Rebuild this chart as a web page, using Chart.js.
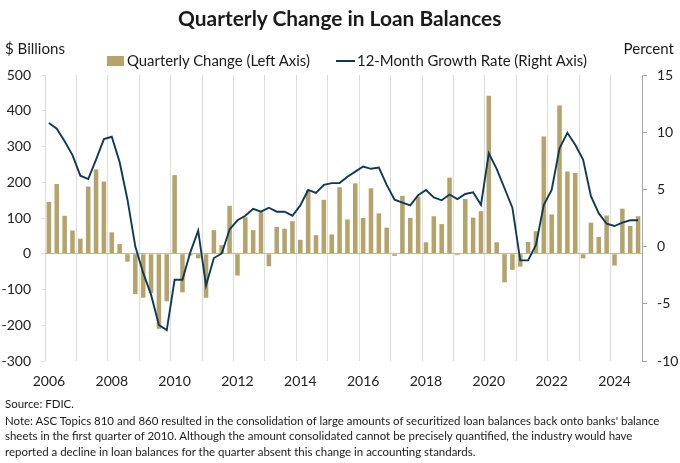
<!DOCTYPE html>
<html><head><meta charset="utf-8">
<script src="https://cdn.jsdelivr.net/npm/chart.js@4.4.1/dist/chart.umd.min.js"></script>
<style>
html,body{margin:0;padding:0;background:#fff;}
#wrap{position:relative;width:680px;height:463px;overflow:hidden;font-family:Lato,"Open Sans",sans-serif;color:#1a1a1a;}
#c{position:absolute;left:0;top:0;}
.t{position:absolute;white-space:nowrap;line-height:1;}
.sw{position:absolute;}
</style></head><body>
<div id="wrap">
<canvas id="c" width="680" height="463" style="width:680px;height:463px"></canvas>
<div class="t" id="title" style="font-weight:700;">Quarterly Change in Loan Balances</div>
<div class="t" id="lunit">$ Billions</div>
<div class="t" id="runit">Percent</div>
<div class="sw" id="box1" style="background:#b4a46c;"></div>
<div class="t" id="leg1">Quarterly Change (Left Axis)</div>
<div class="sw" id="line2" style="background:#0e3a56;"></div>
<div class="t" id="leg2">12-Month Growth Rate (Right Axis)</div>
<div class="t n" id="src">Source: FDIC.</div>
<div class="t n" id="n1">Note: ASC Topics 810 and 860 resulted in the consolidation of large amounts of securitized loan balances back onto banks' balance</div>
<div class="t n" id="n2">sheets in the first quarter of 2010. Although the amount consolidated cannot be precisely quantified, the industry would have</div>
<div class="t n" id="n3">reported a decline in loan balances for the quarter absent this change in accounting standards.</div>
</div>
<script>
// ---- data ----
const years = [2006,2007,2008,2009,2010,2011,2012,2013,2014,2015,2016,2017,2018,2019,2020,2021,2022,2023,2024];
const quarters = ['Q1','Q2','Q3','Q4'];
const categories = years.flatMap(y => quarters.map(q => y + ' ' + q));
const quarterlyChange = [
  145,195,106,65,
  42,188,236,202,
  60,27,-22,-113,
  -123,-110,-210,-133,
  220,-108,-5,-13,
  -123,66,24,134,
  -61,102,66,116,
  -35,75,70,91,
  39,179,52,151,
  54,186,96,197,
  100,183,113,73,
  -6,162,100,160,
  32,105,83,213,
  -4,153,101,119,
  442,32,-80,-45,
  -36,33,63,328,
  110,415,230,226,
  -13,87,47,107,
  -33,126,78,105
];
const growthRate = [
  10.8,10.3,9.2,8.0,
  6.2,5.9,7.6,9.4,
  9.6,7.4,4.1,0.0,
  -2.3,-4.2,-6.85,-7.3,
  -2.9,-2.9,-0.5,1.4,
  -3.4,-1.0,-0.6,1.5,
  2.3,2.7,3.3,3.05,
  3.4,3.05,3.05,2.7,
  3.6,4.95,4.7,5.4,
  5.55,5.55,6.1,6.55,
  7.0,6.8,6.9,5.4,
  4.1,3.85,3.6,4.5,
  4.95,4.3,4.05,4.55,
  4.15,4.6,4.75,3.65,
  8.15,6.8,5.1,3.4,
  -1.2,-1.2,0.15,3.65,
  4.95,8.6,9.95,8.9,
  7.6,4.4,2.9,2.0,
  1.8,2.1,2.3,2.3
];
const leftTicks = {min:-300, max:500, step:100};
const rightTicks = {min:-10, max:15, step:5};

// ---- text layout ----
const FAM = 'Lato, "Open Sans", sans-serif';
const mctx = document.createElement('canvas').getContext('2d');
function fitSize(text, weight, target){ mctx.font = weight + ' 100px ' + FAM; return 100*target/mctx.measureText(text).width; }
function width(text, weight, size){ mctx.font = weight + ' ' + size + 'px ' + FAM; return mctx.measureText(text).width; }
function place(id, size, left, cy, anchor){
  const el = document.getElementById(id);
  el.style.fontSize = size + 'px';
  el.style.top = (cy - 0.529*size) + 'px';
  const w = width(el.textContent, el.style.fontWeight || 400, size);
  let x = left;
  if (anchor === 'center') x = left - w/2;
  if (anchor === 'right') x = left - w;
  el.style.left = x + 'px';
  return w;
}
const tS = fitSize('Quarterly Change in Loan Balances', 700, 324);
place('title', tS, 340, 19.5, 'center');
const uS = fitSize('$ Billions', 400, 60);
place('lunit', uS, 5, 48.5, 'left');
place('runit', uS, 674, 48.5, 'right');
const lS = fitSize('Quarterly Change (Left Axis)', 400, 184);
const b1 = document.getElementById('box1');
Object.assign(b1.style, {left:'107px', top:'56px', width:'17px', height:'10px'});
place('leg1', lS, 127, 60.5, 'left');
const l2 = document.getElementById('line2');
Object.assign(l2.style, {left:'336px', top:'60px', width:'19px', height:'2px'});
place('leg2', lS, 357, 60.5, 'left');
const nS = fitSize(document.getElementById('n1').textContent, 400, 656);
place('src', nS, 5, 404, 'left');
place('n1', nS, 5, 421, 'left');
place('n2', nS, 5, 436.5, 'left');
place('n3', nS, 5, 452, 'left');

// ---- chart ----
const tickFont = {family: FAM, size: 14};
new Chart(document.getElementById('c'), {
  type: 'bar',
  data: {
    labels: categories,
    datasets: [
      {type:'line', label:'12-Month Growth Rate (Right Axis)', data: growthRate, yAxisID:'y1',
       borderColor:'#0e3a56', borderWidth:1.9, pointRadius:0, tension:0, fill:false, order:0},
      {type:'bar', label:'Quarterly Change (Left Axis)', data: quarterlyChange, yAxisID:'y',
       backgroundColor:'#b4a46c', categoryPercentage:1, barPercentage:0.58, order:1}
    ]
  },
  options: {
    responsive:false, animation:false,
    layout:{padding:{top:75, left:0, right:0, bottom:72}},
    plugins:{legend:{display:false}, tooltip:{enabled:false}, title:{display:false}},
    scales:{
      x:{
        type:'category', offset:true,
        grid:{offset:true, drawTicks:false, lineWidth:1,
          color:(c)=> (c.index%4===0) ? '#dcdcdc' : 'rgba(0,0,0,0)'},
        border:{display:false},
        ticks:{autoSkip:false, maxRotation:0, minRotation:0, padding:12, color:'#222', font:tickFont,
          callback:(v,i)=> (i%8===0) ? String(years[i/4]) : ''},
        afterFit:(s)=>{ s.height = 30; }
      },
      y:{
        position:'left', min:leftTicks.min, max:leftTicks.max,
        ticks:{stepSize:leftTicks.step, padding:10, color:'#222', font:tickFont},
        grid:{drawTicks:true, tickLength:4, tickColor:'#e2e2e2', lineWidth:1,
          color:(c)=> (c.tick && c.tick.value===0) ? '#c9bb8f' : 'rgba(0,0,0,0)'},
        border:{display:false},
        afterFit:(s)=>{ s.width = 45; }
      },
      y1:{
        position:'right', min:rightTicks.min, max:rightTicks.max,
        ticks:{stepSize:rightTicks.step, padding:10, color:'#222', font:tickFont},
        grid:{drawOnChartArea:false, drawTicks:true, tickLength:5, color:'#a6a6a6'},
        border:{display:true, color:'#a6a6a6', width:1},
        afterFit:(s)=>{ s.width = 38; }
      }
    }
  }
});
</script>
</body></html>
